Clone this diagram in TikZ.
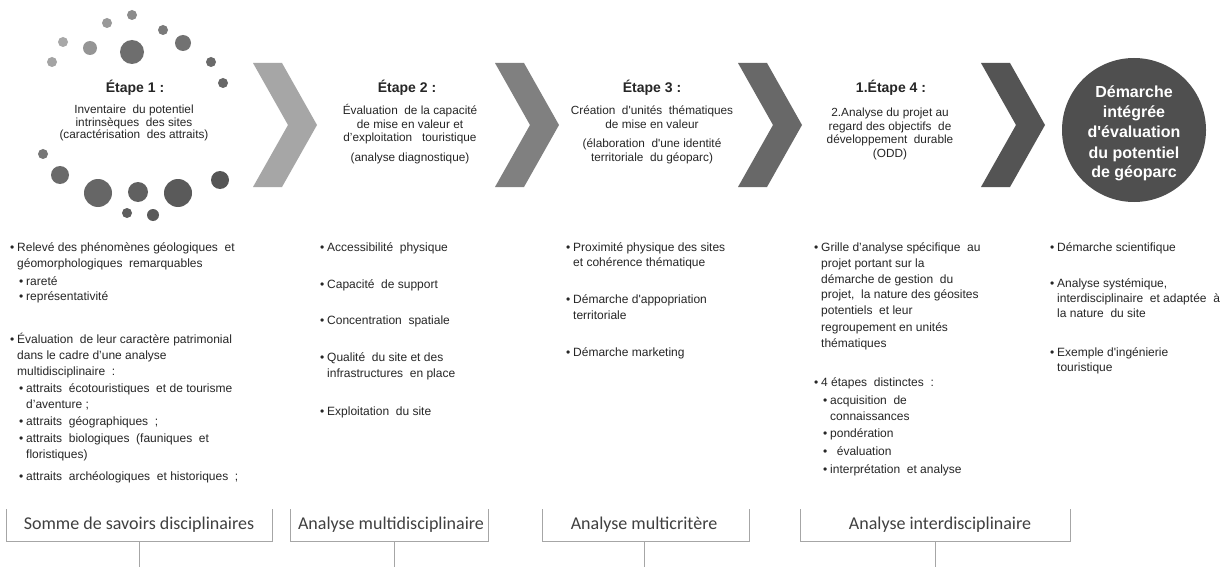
\documentclass[tikz,border=0pt]{standalone}
\usepackage{fontspec}
\setmainfont{Liberation Sans}[Ligatures=TeXOff]
\newfontfamily\boxfont{Carlito}
\definecolor{txt}{HTML}{262626}
\definecolor{chA}{HTML}{A6A6A6}
\definecolor{chB}{HTML}{808080}
\definecolor{chC}{HTML}{686868}
\definecolor{chD}{HTML}{545454}
\definecolor{circ}{HTML}{4F4F4F}
\definecolor{boxline}{HTML}{A6A6A6}
\definecolor{boxtxt}{HTML}{404040}
\newcommand{\bul}{\makebox[7pt][l]{•}}
\newcommand{\ind}{\hspace*{7pt}}
\newcommand{\sub}{\hspace*{9pt}\makebox[7pt][l]{•}}
\newcommand{\subind}{\hspace*{16pt}}
\newcommand{\chevron}[3]{\fill[#2] (#1,63) -- ++(29,0) -- ++(35,62) -- ++(-35,62) -- ++(-29,0) -- ++(35,-62) -- cycle;
  \coordinate (#3) at (#1+32,125);}
\begin{document}
\begin{tikzpicture}[x=1pt,y=-1pt,
  lin/.style={anchor=base west,inner sep=0pt,font=\fontsize{12}{15}\selectfont,text=txt},
  ctr/.style={anchor=base,inner sep=0pt,font=\fontsize{11.8}{15}\selectfont,text=txt},
  head/.style={anchor=base,inner sep=0pt,font=\fontsize{14}{16}\selectfont\bfseries,text=txt},
  lbl/.style={inner sep=0pt,font=\boxfont\fontsize{18}{20}\selectfont,text=boxtxt},
  bracket/.style={draw=boxline,line width=0.8pt},
  stem/.style={draw=boxline,line width=0.8pt}]
\useasboundingbox (0,0) rectangle (1221,567);
\fill[white] (0,0) rectangle (1221,567);
% dots around step 1
\foreach \x/\y/\r/\c [count=\i] in {
  132/15/5/8C8C8C, 107/23/5/999999, 163/30/5/7A7A7A, 63/42/5/A8A8A8, 90/48/7/959595,
  132/52/12/6E6E6E, 183/43/8/727272, 52/62/5/A4A4A4, 211/62/5/6A6A6A, 223/83/5/676767,
  43/154/5/777777, 60/175/9/6A6A6A, 98/193/14/666666, 138/192/10/606060, 178/193/14/5A5A5A,
  220/180/9/555555, 127/213/5/5E5E5E, 153/215/6/5A5A5A}
  {\definecolor{dc}{HTML}{\c}\fill[dc] (\x,\y) circle (\r);}
% chevrons
\chevron{253}{chA}{c1}
\chevron{495}{chB}{c2}
\chevron{738}{chC}{c3}
\chevron{981}{chD}{c4}
% final circle
\fill[circ] (1134,130) circle (72);
\node (fin) at (1134,130) {};
\foreach \y/\t in {98/Démarche,118/intégrée,138/d'évaluation,158/du potentiel,178/de géoparc}
  \node[anchor=base,inner sep=0pt,font=\fontsize{16}{20}\selectfont\bfseries,text=white] at (1134,\y) {\t};
% step headings and texts
\node[head] (s1) at (135,93) {Étape 1 :};
\foreach \y/\t in {114/{Inventaire~ du potentiel},126.5/{intrinsèques~ des sites},139/{(caractérisation~ des attraits)}}
  \node[ctr] at (134,\y) {\t};
\node[head] (s2) at (407,93) {Étape 2 :};
\foreach \y/\t in {115/{Évaluation~ de la capacité},128.5/{de mise en valeur et},142/{d’exploitation~~ touristique},161/{(analyse diagnostique)}}
  \node[ctr] at (410,\y) {\t};
\node[head] (s3) at (652,93) {Étape 3 :};
\foreach \y/\t in {115/{Création~ d'unités~ thématiques},128.5/{de mise en valeur},148/{(élaboration~ d'une identité},161.5/{territoriale~ du géoparc)}}
  \node[ctr] at (652,\y) {\t};
\node[head] (s4) at (891,93) {1.Étape 4 :};
\foreach \y/\t in {117/{2.Analyse du projet au},130.5/{regard des objectifs~ de},144/{développement~ durable},157.5/{(ODD)}}
  \node[ctr] at (890,\y) {\t};
% column 1
\foreach \y/\t in {
  251/{\bul Relevé des phénomènes géologiques~ et},
  267/{\ind géomorphologiques~ remarquables},
  285/{\sub rareté},
  300/{\sub représentativité},
  343/{\bul Évaluation~ de leur caractère patrimonial},
  359/{\ind dans le cadre d’une analyse},
  375/{\ind multidisciplinaire~ :},
  392/{\sub attraits~ écotouristiques~ et de tourisme},
  408/{\subind d’aventure ;},
  425/{\sub attraits~ géographiques~ ;},
  442/{\sub attraits~ biologiques~ (fauniques~ et},
  458/{\subind floristiques)},
  480/{\sub attraits~ archéologiques~ et historiques~ ;}}
  \node[lin] at (10,\y) {\t};
% column 2
\foreach \y/\t in {
  251/{\bul Accessibilité~ physique},
  288/{\bul Capacité~ de support},
  324/{\bul Concentration~ spatiale},
  361/{\bul Qualité~ du site et des},
  377/{\ind infrastructures~ en place},
  415/{\bul Exploitation~ du site}}
  \node[lin] at (320,\y) {\t};
% column 3
\foreach \y/\t in {
  251/{\bul Proximité physique des sites},
  266/{\ind et cohérence thématique},
  303/{\bul Démarche d'appopriation},
  319/{\ind territoriale},
  356/{\bul Démarche marketing}}
  \node[lin] at (566,\y) {\t};
% column 4
\foreach \y/\t in {
  251/{\bul Grille d’analyse spécifique~ au},
  267/{\ind projet portant sur la},
  283/{\ind démarche de gestion~ du},
  298/{\ind projet,~ la nature des géosites},
  314/{\ind potentiels~ et leur},
  331/{\ind regroupement en unités},
  347/{\ind thématiques},
  386/{\bul 4 étapes~ distinctes~ :},
  404/{\sub acquisition~ de},
  420/{\subind connaissances},
  437/{\sub pondération},
  455/{\sub~ évaluation},
  473/{\sub interprétation~ et analyse}}
  \node[lin] at (814,\y) {\t};
% column 5
\foreach \y/\t in {
  251/{\bul Démarche scientifique},
  287/{\bul Analyse systémique,},
  302/{\ind interdisciplinaire~ et adaptée~ à},
  317/{\ind la nature~ du site},
  356/{\bul Exemple d'ingénierie},
  371/{\ind touristique}}
  \node[lin] at (1050,\y) {\t};
% bottom brackets
\node[lbl] (b1) at (139,525) {Somme de savoirs disciplinaires};
\node[lbl] (b2) at (391,525) {Analyse multidisciplinaire};
\node[lbl] (b3) at (644,525) {Analyse multicritère};
\node[lbl] (b4) at (940,525) {Analyse interdisciplinaire};
\draw[bracket] (6,509) -- (6,541) -- (272,541) -- (272,509);
\draw[bracket] (290,509) -- (290,541) -- (488,541) -- (488,509);
\draw[bracket] (542,509) -- (542,541) -- (749,541) -- (749,509);
\draw[bracket] (800,509) -- (800,541) -- (1070,541) -- (1070,509);
\coordinate (e1) at (139,567); \coordinate (e2) at (394,567);
\coordinate (e3) at (644,567); \coordinate (e4) at (935,567);
\draw[stem] (139,541) -- (e1);
\draw[stem] (394,541) -- (e2);
\draw[stem] (644,541) -- (e3);
\draw[stem] (935,541) -- (e4);
\end{tikzpicture}
\end{document}
